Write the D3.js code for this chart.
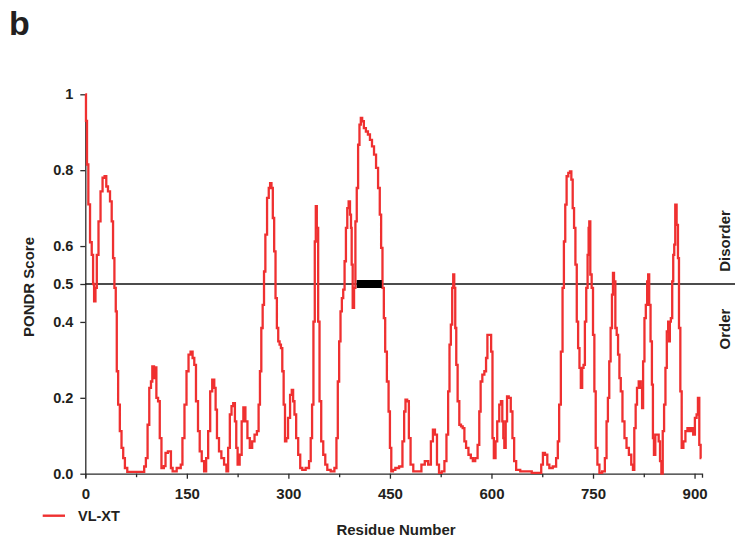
<!DOCTYPE html>
<html>
<head>
<meta charset="utf-8">
<script src="https://cdn.jsdelivr.net/npm/d3@7"></script>
<style>
  html, body { margin: 0; padding: 0; background: #fff; }
  svg { display: block; font-family: "Liberation Sans", Arial, sans-serif; }
  .tick text { font-weight: bold; fill: #231f20; }
</style>
</head>
<body>
<svg id="chart" width="737" height="543"></svg>
<script>
// PONDR VL-XT disorder profile (residue position, score)
const residues = [
  0, 2, 3, 6, 8, 11, 12, 14, 16, 18, 21, 24, 27, 30, 32, 35, 38, 40, 42, 44,
  46, 47, 50, 52, 55, 57, 60, 64, 86, 88, 91, 93, 96, 98, 100, 103, 104, 106, 109, 111,
  114, 118, 119, 125, 128, 130, 140, 142, 145, 148, 151, 154, 157, 160, 162, 165, 168, 170, 174, 177,
  180, 183, 186, 189, 192, 193, 196, 199, 203, 207, 210, 212, 215, 217, 220, 222, 224, 226, 230, 232,
  235, 238, 241, 245, 248, 252, 255, 257, 259, 261, 263, 265, 267, 270, 272, 274, 276, 278, 280, 282,
  284, 286, 288, 290, 292, 294, 296, 298, 301, 304, 306, 308, 310, 313, 316, 319, 322, 329, 332, 334,
  336, 338, 340, 341, 343, 345, 347, 350, 353, 356, 359, 366, 370, 372, 374, 376, 378, 380, 382, 384,
  386, 388, 390, 392, 393, 394, 396, 398, 400, 402, 404, 406, 408, 410, 413, 416, 419, 422, 425, 428,
  431, 434, 436, 438, 440, 442, 444, 447, 449, 451, 453, 456, 460, 467, 470, 472, 474, 477, 479, 482,
  487, 494, 499, 504, 509, 512, 515, 518, 521, 524, 529, 532, 535, 537, 539, 541, 543, 544, 546, 547,
  549, 551, 554, 556, 559, 561, 564, 568, 571, 574, 578, 581, 583, 585, 588, 591, 593, 595, 598, 601,
  602, 605, 607, 610, 613, 615, 617, 618, 620, 622, 624, 627, 630, 632, 635, 638, 647, 672, 675, 677,
  681, 684, 687, 694, 697, 699, 701, 704, 706, 708, 710, 712, 715, 717, 719, 721, 723, 725, 727, 729,
  731, 733, 735, 737, 739, 741, 743, 744, 745, 747, 749, 751, 753, 755, 758, 761, 766, 769, 771, 773,
  775, 777, 779, 780, 782, 784, 786, 788, 790, 792, 795, 798, 801, 805, 808, 810, 812, 814, 816, 819,
  822, 823, 825, 827, 829, 831, 832, 834, 836, 838, 839, 841, 843, 846, 848, 850, 852, 854, 856, 858,
  860, 862, 863, 864, 866, 868, 869, 871, 872, 875, 876, 878, 880, 882, 885, 888, 891, 894, 897, 899,
  902, 904, 906, 908, 910
];
const scores = [
  1.0, 0.93, 0.815, 0.71, 0.61, 0.577, 0.50, 0.454, 0.49, 0.577, 0.665, 0.744, 0.78, 0.784, 0.757, 0.744, 0.718, 0.665, 0.568, 0.49,
  0.428, 0.27, 0.182, 0.112, 0.068, 0.041, 0.015, 0.005, 0.005, 0.019, 0.041, 0.129, 0.226, 0.243, 0.283, 0.252, 0.28, 0.2, 0.191, 0.094,
  0.015, 0.02, 0.055, 0.059, 0.015, 0.006, 0.015, 0.024, 0.094, 0.182, 0.27, 0.314, 0.322, 0.305, 0.287, 0.191, 0.112, 0.059, 0.033, 0.006,
  0.041, 0.112, 0.217, 0.248, 0.226, 0.169, 0.094, 0.059, 0.041, 0.024, 0.006, 0.068, 0.156, 0.178, 0.186, 0.138, 0.068, 0.024, 0.05, 0.138,
  0.175, 0.138, 0.094, 0.068, 0.085, 0.103, 0.112, 0.182, 0.27, 0.384, 0.445, 0.533, 0.63, 0.727, 0.753, 0.766, 0.753, 0.674, 0.586, 0.463,
  0.384, 0.349, 0.34, 0.331, 0.27, 0.182, 0.085, 0.094, 0.147, 0.208, 0.221, 0.191, 0.156, 0.094, 0.05, 0.015, 0.01, 0.015, 0.033, 0.094,
  0.182, 0.401, 0.612, 0.705, 0.648, 0.401, 0.191, 0.085, 0.05, 0.024, 0.01, 0.006, 0.015, 0.094, 0.243, 0.349, 0.428, 0.463, 0.485, 0.56,
  0.648, 0.7, 0.718, 0.683, 0.648, 0.551, 0.437, 0.49, 0.665, 0.753, 0.867, 0.92, 0.938, 0.929, 0.911, 0.902, 0.894, 0.88, 0.863, 0.841,
  0.806, 0.753, 0.683, 0.595, 0.49, 0.41, 0.322, 0.243, 0.164, 0.068, 0.006, 0.01, 0.015, 0.019, 0.085, 0.164, 0.195, 0.191, 0.094, 0.024,
  0.006, 0.006, 0.024, 0.033, 0.024, 0.085, 0.116, 0.103, 0.024, 0.002, 0.006, 0.033, 0.103, 0.217, 0.34, 0.393, 0.49, 0.525, 0.49, 0.384,
  0.287, 0.191, 0.129, 0.125, 0.12, 0.085, 0.068, 0.05, 0.041, 0.033, 0.041, 0.076, 0.164, 0.243, 0.261, 0.27, 0.305, 0.366, 0.366, 0.322,
  0.094, 0.041, 0.085, 0.138, 0.182, 0.191, 0.138, 0.094, 0.068, 0.138, 0.204, 0.2, 0.164, 0.094, 0.033, 0.01, 0.006, 0.002, 0.024, 0.055,
  0.05, 0.024, 0.015, 0.019, 0.041, 0.085, 0.182, 0.322, 0.49, 0.612, 0.709, 0.784, 0.793, 0.797, 0.775, 0.7, 0.648, 0.551, 0.401, 0.331,
  0.279, 0.226, 0.279, 0.287, 0.401, 0.49, 0.577, 0.648, 0.665, 0.525, 0.49, 0.366, 0.217, 0.068, 0.024, 0.002, 0.006, 0.041, 0.138, 0.2,
  0.296, 0.384, 0.472, 0.529, 0.507, 0.384, 0.366, 0.314, 0.252, 0.217, 0.138, 0.094, 0.068, 0.05, 0.024, 0.01, 0.12, 0.182, 0.226, 0.243,
  0.226, 0.173, 0.296, 0.41, 0.445, 0.507, 0.525, 0.445, 0.349, 0.235, 0.094, 0.05, 0.103, 0.103, 0.085, 0.033, 0.0, 0.112, 0.182, 0.279,
  0.375, 0.401, 0.349, 0.401, 0.41, 0.507, 0.577, 0.604, 0.709, 0.656, 0.568, 0.384, 0.217, 0.068, 0.085, 0.112, 0.12, 0.112, 0.12, 0.103,
  0.147, 0.156, 0.2, 0.076, 0.041
];

// Axis ticks and annotations
const xMajorTicks = [0, 150, 300, 450, 600, 750, 900];
const xMinorTicks = [75, 225, 375, 525, 675, 825];
const yTicks = [0, 0.2, 0.4, 0.5, 0.6, 0.8, 1];
const threshold = 0.5;
const markedRegion = [401, 438];
const seriesName = "VL-XT";

const svg = d3.select("#chart");
const x = d3.scaleLinear().domain([0, 911]).range([85.3, 702]);
const y = d3.scaleLinear().domain([0, 1]).range([473.7, 94.3]);

const axisColor = "#2b2b2b";
const red = "#ef3030";

// panel letter
svg.append("text").attr("x", 9).attr("y", 35)
  .attr("font-size", 34).attr("font-weight", "bold").attr("fill", "#231f20").text("b");

// x axis: minor ticks first, then labelled major ticks
const gxMinor = svg.append("g").attr("transform", `translate(0,${y(0)})`)
  .call(d3.axisBottom(x).tickValues(xMinorTicks).tickSize(3.5).tickSizeOuter(0).tickFormat(""));
gxMinor.select(".domain").remove();
gxMinor.selectAll("line").attr("stroke", axisColor).attr("stroke-width", 1.3);

const gx = svg.append("g").attr("transform", `translate(0,${y(0)})`)
  .call(d3.axisBottom(x).tickValues(xMajorTicks).tickSize(5).tickSizeOuter(4).tickPadding(9.5));
gx.select(".domain").attr("stroke", axisColor).attr("stroke-width", 1.3);
gx.selectAll("line").attr("stroke", axisColor).attr("stroke-width", 1.3);
gx.selectAll("text").attr("font-size", 15).attr("font-family", "Liberation Sans, Arial, sans-serif");

// y axis
const gy = svg.append("g").attr("transform", `translate(${x(0)},0)`)
  .call(d3.axisLeft(y).tickValues(yTicks).tickSize(5).tickSizeOuter(0).tickPadding(7)
    .tickFormat(d => d === 1 ? "1" : d3.format(".1f")(d)));
gy.select(".domain").attr("stroke", axisColor).attr("stroke-width", 1.3);
gy.selectAll("line").attr("stroke", axisColor).attr("stroke-width", 1.3);
gy.selectAll("text").attr("font-size", 14.5).attr("font-family", "Liberation Sans, Arial, sans-serif");

// disorder threshold
svg.append("line")
  .attr("x1", x(0)).attr("x2", 735)
  .attr("y1", y(threshold)).attr("y2", y(threshold))
  .attr("stroke", "#111").attr("stroke-width", 1.3);

// score profile
const points = residues.map((r, i) => [r, scores[i]]);
const line = d3.line().x(d => x(d[0])).y(d => y(d[1])).curve(d3.curveStep);
svg.append("path").datum(points)
  .attr("d", line)
  .attr("fill", "none")
  .attr("stroke", red)
  .attr("stroke-width", 2.3)
  .attr("stroke-linejoin", "miter");

// marked region on the threshold line
svg.append("rect")
  .attr("x", x(markedRegion[0])).attr("width", x(markedRegion[1]) - x(markedRegion[0]))
  .attr("y", y(threshold) - 4).attr("height", 8)
  .attr("fill", "#000");

// axis titles
svg.append("text")
  .attr("x", 396).attr("y", 535).attr("text-anchor", "middle")
  .attr("font-size", 15).attr("font-weight", "bold").attr("fill", "#231f20")
  .text("Residue Number");

svg.append("text")
  .attr("transform", "translate(34,287) rotate(-90)")
  .attr("text-anchor", "middle")
  .attr("font-size", 15).attr("font-weight", "bold").attr("fill", "#231f20")
  .text("PONDR Score");

// region labels on the right
svg.append("text")
  .attr("transform", "translate(729.5,241) rotate(-90)")
  .attr("text-anchor", "middle")
  .attr("font-size", 15).attr("font-weight", "bold").attr("fill", "#231f20")
  .text("Disorder");
svg.append("text")
  .attr("transform", "translate(729.5,329) rotate(-90)")
  .attr("text-anchor", "middle")
  .attr("font-size", 15).attr("font-weight", "bold").attr("fill", "#231f20")
  .text("Order");

// legend
const legend = svg.append("g");
legend.append("line")
  .attr("x1", 42.7).attr("x2", 65).attr("y1", 515.7).attr("y2", 515.7)
  .attr("stroke", red).attr("stroke-width", 2.4);
legend.append("text")
  .attr("x", 78).attr("y", 520.5)
  .attr("font-size", 14.5).attr("font-weight", "bold").attr("fill", "#231f20")
  .text(seriesName);
</script>
</body>
</html>
